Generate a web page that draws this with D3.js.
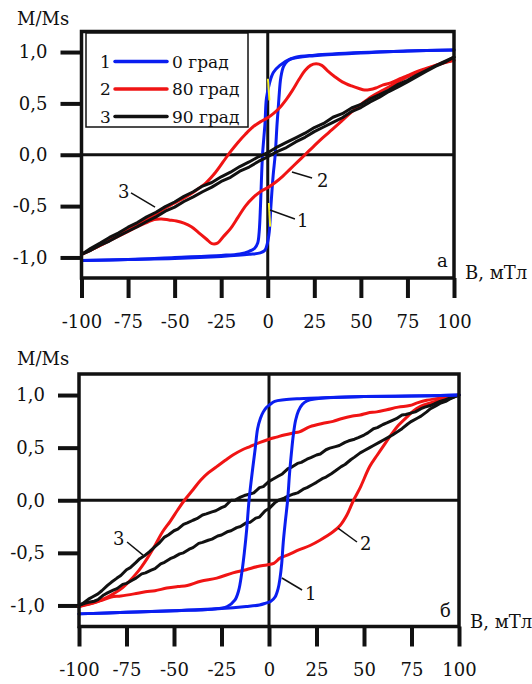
<!DOCTYPE html>
<html><head><meta charset="utf-8">
<script src="https://cdn.jsdelivr.net/npm/d3@7"></script>
<style>
body{margin:0;background:#fff;}
text{font-family:"DejaVu Serif",serif;fill:#111;}
</style></head>
<body>
<script>
// ---------- data ----------
const B_TICKS = [-100,-75,-50,-25,0,25,50,75,100];
const M_TICKS = [-1,-0.5,0,0.5,1];
const LEGEND_NUMS = ["1","2","3"];
const LEGEND_LABELS = ["0 град","80 град","90 град"];
const X_TITLE = "B, мТл";
const Y_TITLE = "M/Ms";
const PANEL_LABELS = ["а","б"];

// panel a, 0 deg (blue)
const a_blue_desc = [[100,1.02],[75,1.01],[50,0.99],[25,0.965],[12,0.93],[6.5,0.87],[3,0.8],[1,0.7],[-0.7,0.55],[-1.5,0.3],[-2.8,0],[-3.4,-0.25],[-3.9,-0.5],[-4.6,-0.75],[-5.4,-0.86],[-7,-0.91],[-10,-0.94],[-15,-0.965],[-25,-0.98],[-50,-1.0],[-75,-1.02],[-100,-1.03]];
const a_blue_asc = [[-100,-1.03],[-75,-1.02],[-50,-1.01],[-25,-0.99],[-10,-0.97],[-4,-0.955],[-1.5,-0.93],[-0.3,-0.87],[0.8,-0.75],[1.7,-0.5],[2.9,-0.2],[4,0],[5,0.3],[6,0.55],[7,0.75],[8.5,0.86],[11,0.92],[15,0.95],[25,0.97],[50,0.995],[75,1.01],[100,1.02]];
const a_yellow = [[[0.1,0.74],[0.9,0.53]],[[0.6,-0.47],[1.3,-0.7]]];
// panel a, 80 deg (red)
const a_red_desc = [[100,0.92],[95,0.9],[90,0.87],[85,0.84],[80,0.81],[75,0.77],[71,0.74],[66,0.7],[62,0.68],[58,0.65],[55,0.635],[52,0.63],[49,0.645],[45,0.67],[40,0.71],[36,0.76],[32,0.82],[29,0.87],[26,0.885],[23,0.87],[20,0.82],[17,0.74],[13,0.62],[10,0.54],[6,0.45],[3,0.4],[0,0.36],[-4,0.32],[-8,0.27],[-12,0.2],[-16,0.12],[-20,0.03],[-24,-0.07],[-28,-0.17],[-33,-0.27],[-38,-0.34],[-44,-0.41],[-50,-0.47],[-56,-0.53],[-62,-0.6],[-68,-0.66],[-74,-0.72],[-80,-0.78],[-86,-0.84],[-92,-0.9],[-100,-0.97]];
const a_red_asc = [[-100,-0.97],[-94,-0.92],[-88,-0.865],[-82,-0.81],[-76,-0.755],[-70,-0.7],[-65,-0.66],[-61,-0.63],[-57,-0.625],[-53,-0.635],[-49,-0.645],[-45,-0.665],[-41,-0.7],[-37,-0.76],[-33,-0.82],[-30,-0.865],[-27,-0.86],[-24,-0.8],[-20,-0.72],[-16,-0.61],[-12,-0.5],[-8,-0.42],[-4,-0.36],[0,-0.32],[4,-0.27],[8,-0.21],[12,-0.14],[16,-0.07],[20,0.0],[24,0.07],[28,0.14],[33,0.22],[38,0.3],[44,0.4],[50,0.49],[56,0.57],[62,0.63],[68,0.69],[74,0.75],[80,0.8],[86,0.84],[92,0.88],[100,0.92]];
// panel a, 90 deg (black)
const a_black_desc = [[100,0.95],[95,0.91],[90,0.865],[85,0.82],[80,0.775],[75,0.725],[70,0.685],[65,0.63],[60,0.585],[55,0.545],[50,0.49],[45,0.455],[40,0.4],[35,0.365],[30,0.305],[25,0.265],[20,0.21],[15,0.165],[10,0.12],[5,0.075],[0,0.02],[-5,-0.02],[-10,-0.07],[-15,-0.115],[-20,-0.17],[-25,-0.215],[-30,-0.27],[-35,-0.305],[-40,-0.36],[-45,-0.405],[-50,-0.46],[-55,-0.505],[-60,-0.56],[-65,-0.605],[-70,-0.66],[-75,-0.705],[-80,-0.76],[-85,-0.805],[-90,-0.86],[-95,-0.91],[-100,-0.97]];
const a_black_asc = [[-100,-0.97],[-95,-0.93],[-90,-0.88],[-85,-0.84],[-80,-0.79],[-75,-0.745],[-70,-0.7],[-65,-0.65],[-60,-0.605],[-55,-0.55],[-50,-0.51],[-45,-0.455],[-40,-0.41],[-35,-0.36],[-30,-0.315],[-25,-0.26],[-20,-0.22],[-15,-0.16],[-10,-0.12],[-5,-0.065],[0,-0.02],[5,0.03],[10,0.07],[15,0.125],[20,0.17],[25,0.225],[30,0.27],[35,0.315],[40,0.36],[45,0.42],[50,0.46],[55,0.515],[60,0.56],[65,0.615],[70,0.66],[75,0.71],[80,0.76],[85,0.81],[90,0.86],[95,0.9],[100,0.95]];

// panel b, 0 deg (blue)
const b_blue_desc = [[100,1.0],[75,0.99],[50,0.985],[30,0.975],[16,0.965],[8,0.955],[3,0.94],[0.5,0.91],[-1.5,0.88],[-3,0.84],[-4.5,0.78],[-6,0.68],[-7.2,0.5],[-8.6,0.3],[-10.5,0],[-11.7,-0.27],[-13,-0.5],[-14.4,-0.7],[-16,-0.86],[-18,-0.95],[-22,-1.01],[-30,-1.035],[-50,-1.05],[-75,-1.065],[-100,-1.08]];
const b_blue_asc = [[-100,-1.08],[-75,-1.065],[-50,-1.05],[-25,-1.03],[-12,-1.01],[-5,-0.995],[-2,-0.98],[1,-0.96],[3.2,-0.92],[4.8,-0.84],[5.8,-0.74],[6.7,-0.6],[7.5,-0.4],[8.6,-0.2],[9.8,0],[10.8,0.25],[11.8,0.45],[12.8,0.62],[14,0.76],[15.5,0.85],[17.5,0.91],[20,0.945],[25,0.965],[30,0.975],[50,0.985],[75,0.99],[100,1.0]];
// panel b, 80 deg (red)
const b_red_desc = [[100,1.0],[93.5,0.98],[88,0.965],[83,0.95],[78,0.925],[74,0.9],[68,0.885],[62,0.86],[56.7,0.84],[52,0.83],[48,0.81],[44,0.8],[38,0.775],[33.7,0.75],[28,0.73],[21.6,0.7],[16,0.65],[12.8,0.64],[8,0.62],[4,0.6],[0,0.58],[-4.7,0.55],[-10,0.51],[-14,0.48],[-19,0.43],[-23,0.38],[-27.5,0.32],[-32,0.26],[-36,0.19],[-40,0.1],[-44.5,0],[-48,-0.09],[-52,-0.2],[-56,-0.3],[-60,-0.43],[-64,-0.55],[-67,-0.63],[-70,-0.7],[-73.5,-0.77],[-77,-0.83],[-81,-0.88],[-85,-0.92],[-90,-0.96],[-95,-0.99],[-100,-1.01]];
const b_red_asc = [[-100,-1.01],[-96,-0.99],[-92.5,-0.975],[-88,-0.95],[-83,-0.92],[-78,-0.91],[-71,-0.89],[-65,-0.87],[-60,-0.86],[-53.8,-0.835],[-48,-0.82],[-43,-0.81],[-36,-0.77],[-27.5,-0.74],[-19,-0.69],[-12,-0.66],[-6,-0.63],[-1.2,-0.615],[2.5,-0.6],[5.8,-0.55],[10,-0.52],[16,-0.47],[21.6,-0.43],[26.8,-0.38],[33.7,-0.3],[37.4,-0.24],[41,-0.14],[44.5,0],[48,0.12],[53,0.32],[57,0.43],[60,0.51],[65,0.64],[68,0.71],[72.5,0.79],[76,0.85],[79.5,0.89],[84,0.92],[90,0.95],[95,0.98],[100,1.0]];
// panel b, 90 deg (black)
const b_black_desc = [[100,1.0],[97,0.98],[95,0.97],[92,0.95],[90,0.94],[87,0.915],[85,0.9],[82,0.885],[80,0.87],[77,0.84],[75,0.83],[72,0.815],[70,0.81],[67,0.775],[65,0.76],[62,0.735],[60,0.72],[57,0.69],[55,0.68],[52,0.64],[50,0.62],[47,0.595],[45,0.58],[42,0.565],[40,0.55],[37,0.52],[35,0.51],[32,0.495],[30,0.48],[27,0.44],[25,0.43],[22,0.405],[20,0.39],[17,0.36],[15,0.35],[12,0.315],[10,0.3],[7,0.25],[5,0.23],[2,0.2],[0,0.18],[-3,0.13],[-5,0.12],[-8,0.07],[-10,0.06],[-13,0.045],[-15,0.03],[-18,0.0],[-20,0.0],[-23,-0.055],[-25,-0.07],[-28,-0.1],[-30,-0.11],[-33,-0.13],[-35,-0.14],[-38,-0.175],[-40,-0.19],[-43,-0.215],[-45,-0.23],[-48,-0.275],[-50,-0.29],[-53,-0.33],[-55,-0.35],[-58,-0.41],[-60,-0.44],[-63,-0.49],[-65,-0.52],[-68,-0.555],[-70,-0.59],[-73,-0.64],[-75,-0.66],[-78,-0.715],[-80,-0.74],[-83,-0.78],[-85,-0.81],[-88,-0.86],[-90,-0.89],[-93,-0.92],[-95,-0.94],[-98,-0.98],[-100,-1.0]];
const b_black_asc = [[-100,-1.0],[-97,-0.98],[-95,-0.97],[-92,-0.96],[-90,-0.945],[-87,-0.9],[-85,-0.88],[-82,-0.855],[-80,-0.84],[-77,-0.8],[-75,-0.79],[-72,-0.76],[-70,-0.74],[-67,-0.7],[-65,-0.69],[-62,-0.665],[-60,-0.65],[-57,-0.605],[-55,-0.59],[-52,-0.555],[-50,-0.54],[-47,-0.51],[-45,-0.5],[-42,-0.465],[-40,-0.45],[-37,-0.41],[-35,-0.4],[-32,-0.38],[-30,-0.37],[-27,-0.34],[-25,-0.33],[-22,-0.3],[-20,-0.29],[-17,-0.26],[-15,-0.25],[-12,-0.215],[-10,-0.21],[-7,-0.17],[-5,-0.16],[-2,-0.1],[0,-0.08],[3,-0.025],[5,0.0],[8,0.02],[10,0.04],[13,0.06],[15,0.07],[18,0.105],[20,0.12],[23,0.15],[25,0.17],[28,0.205],[30,0.22],[33,0.255],[35,0.28],[38,0.32],[40,0.34],[43,0.385],[45,0.41],[48,0.45],[50,0.47],[53,0.5],[55,0.52],[58,0.55],[60,0.57],[63,0.6],[65,0.62],[68,0.655],[70,0.68],[73,0.725],[75,0.75],[78,0.78],[80,0.8],[83,0.84],[85,0.87],[88,0.9],[90,0.92],[93,0.94],[95,0.96],[98,0.985],[100,1.0]];

// ---------- drawing ----------
const COLORS = {blue:"#0a1ef0", red:"#f01414", black:"#111111", yellow:"#f5f020"};
const svg = d3.select("body").append("svg").attr("width",532).attr("height",684);
const fmtY = d => d.toFixed(1).replace(".", ",");
const fmtX = d => String(d);

const panels = [
  { xr:[81.5,454], yr:[278,31.5], titleY:25, label:PANEL_LABELS[0],
    series:[
      {data:[a_blue_desc,a_blue_asc], color:COLORS.blue, smooth:true},
      {data:[a_red_desc,a_red_asc], color:COLORS.red, smooth:true},
      {data:[a_black_desc,a_black_asc], color:COLORS.black, smooth:false}
    ],
    yellow:a_yellow,
    notes:[ {t:"3", at:[-80.4,-0.42], line:[[-73.4,-0.372],[-60.5,-0.509]]},
            {t:"2", at:[26.4,-0.314], line:[[13.0,-0.168],[23.8,-0.226]]},
            {t:"1", at:[15.7,-0.703], line:[[1.2,-0.538],[14.6,-0.625]]} ],
    labelAt:[90.9,-1.092], legend:true },
  { xr:[79,459], yr:[626.5,374], titleY:365, label:PANEL_LABELS[1],
    series:[
      {data:[b_red_desc,b_red_asc], color:COLORS.red, smooth:true},
      {data:[b_black_desc,b_black_asc], color:COLORS.black, smooth:false},
      {data:[b_blue_desc,b_blue_asc], color:COLORS.blue, smooth:true}
    ],
    yellow:[],
    notes:[ {t:"3", at:[-82.1,-0.425], line:[[-74.7,-0.397],[-66.3,-0.521]]},
            {t:"2", at:[47.9,-0.473], line:[[36.3,-0.264],[46.3,-0.397]]},
            {t:"1", at:[18.9,-0.948], line:[[6.8,-0.739],[17.4,-0.853]]} ],
    labelAt:[90,-1.11], legend:false }
];

panels.forEach(p => {
  const x = d3.scaleLinear().domain([-100,100]).range(p.xr);
  const y = d3.scaleLinear().domain([-1.2,1.2]).range(p.yr);
  const g = svg.append("g");

  // axes with outside ticks
  const ya = g.append("g").attr("transform",`translate(${x(-100)},0)`)
    .call(d3.axisLeft(y).tickValues(M_TICKS).tickFormat(fmtY).tickSize(21).tickPadding(13));
  const xa = g.append("g").attr("transform",`translate(0,${y(-1.2)})`)
    .call(d3.axisBottom(x).tickValues(B_TICKS).tickFormat(fmtX).tickSize(20).tickPadding(17));
  [ya,xa].forEach(a=>{
    a.select(".domain").remove();
    a.selectAll(".tick line").attr("stroke","#111").attr("stroke-width",4);
    a.selectAll(".tick text").attr("font-family","DejaVu Serif").attr("font-size",18).attr("fill","#111");
  });

  // zero lines
  g.append("line").attr("x1",x(-100)).attr("x2",x(100)).attr("y1",y(0)).attr("y2",y(0))
    .attr("stroke","#111").attr("stroke-width",3);
  g.append("line").attr("x1",x(0)).attr("x2",x(0)).attr("y1",y(1.2)).attr("y2",y(-1.2))
    .attr("stroke","#111").attr("stroke-width",3);

  // curves
  p.series.forEach(s=>{
    const line = d3.line().x(d=>x(d[0])).y(d=>y(d[1]))
      .curve(s.smooth ? d3.curveCatmullRom.alpha(0.5) : d3.curveLinear);
    s.data.forEach(br=>{
      g.append("path").attr("d",line(br)).attr("fill","none")
        .attr("stroke",s.color).attr("stroke-width",3).attr("stroke-linejoin","round").attr("stroke-linecap","round");
    });
  });
  p.yellow.forEach(seg=>{
    g.append("line").attr("x1",x(seg[0][0])).attr("y1",y(seg[0][1])).attr("x2",x(seg[1][0])).attr("y2",y(seg[1][1]))
      .attr("stroke",COLORS.yellow).attr("stroke-width",2);
  });

  // frame
  g.append("rect").attr("x",x(-100)).attr("y",y(1.2)).attr("width",x(100)-x(-100)).attr("height",y(-1.2)-y(1.2))
    .attr("fill","none").attr("stroke","#111").attr("stroke-width",3.5);

  // annotations
  p.notes.forEach(n=>{
    g.append("line").attr("x1",x(n.line[0][0])).attr("y1",y(n.line[0][1])).attr("x2",x(n.line[1][0])).attr("y2",y(n.line[1][1]))
      .attr("stroke","#111").attr("stroke-width",1.5);
    g.append("text").attr("x",x(n.at[0])).attr("y",y(n.at[1])).attr("font-size",18).text(n.t);
  });
  g.append("text").attr("x",x(p.labelAt[0])).attr("y",y(p.labelAt[1])).attr("font-size",18).text(p.label);
  g.append("text").attr("x",x(100)+11).attr("y",y(-1.2)+1).attr("font-size",18).text(X_TITLE);
  g.append("text").attr("x",17).attr("y",p.titleY).attr("font-size",18).text(Y_TITLE);

  // legend
  if (p.legend){
    const lg = g.append("g").attr("transform",`translate(${x(-100)+4.5},${y(1.2)+1.5})`);
    lg.append("rect").attr("width",162).attr("height",94).attr("fill","#fff").attr("stroke","#111").attr("stroke-width",1.5);
    const cols = [COLORS.blue, COLORS.red, COLORS.black];
    LEGEND_LABELS.forEach((lab,i)=>{
      const cy = 28.5 + i*27.5;
      lg.append("text").attr("x",14).attr("y",cy+6).attr("font-size",17).text(LEGEND_NUMS[i]);
      lg.append("line").attr("x1",29).attr("x2",81).attr("y1",cy).attr("y2",cy).attr("stroke",cols[i]).attr("stroke-width",3.5).attr("stroke-linecap","round");
      lg.append("text").attr("x",86).attr("y",cy+6).attr("font-size",17).text(lab);
    });
  }
});
</script>
</body></html>
